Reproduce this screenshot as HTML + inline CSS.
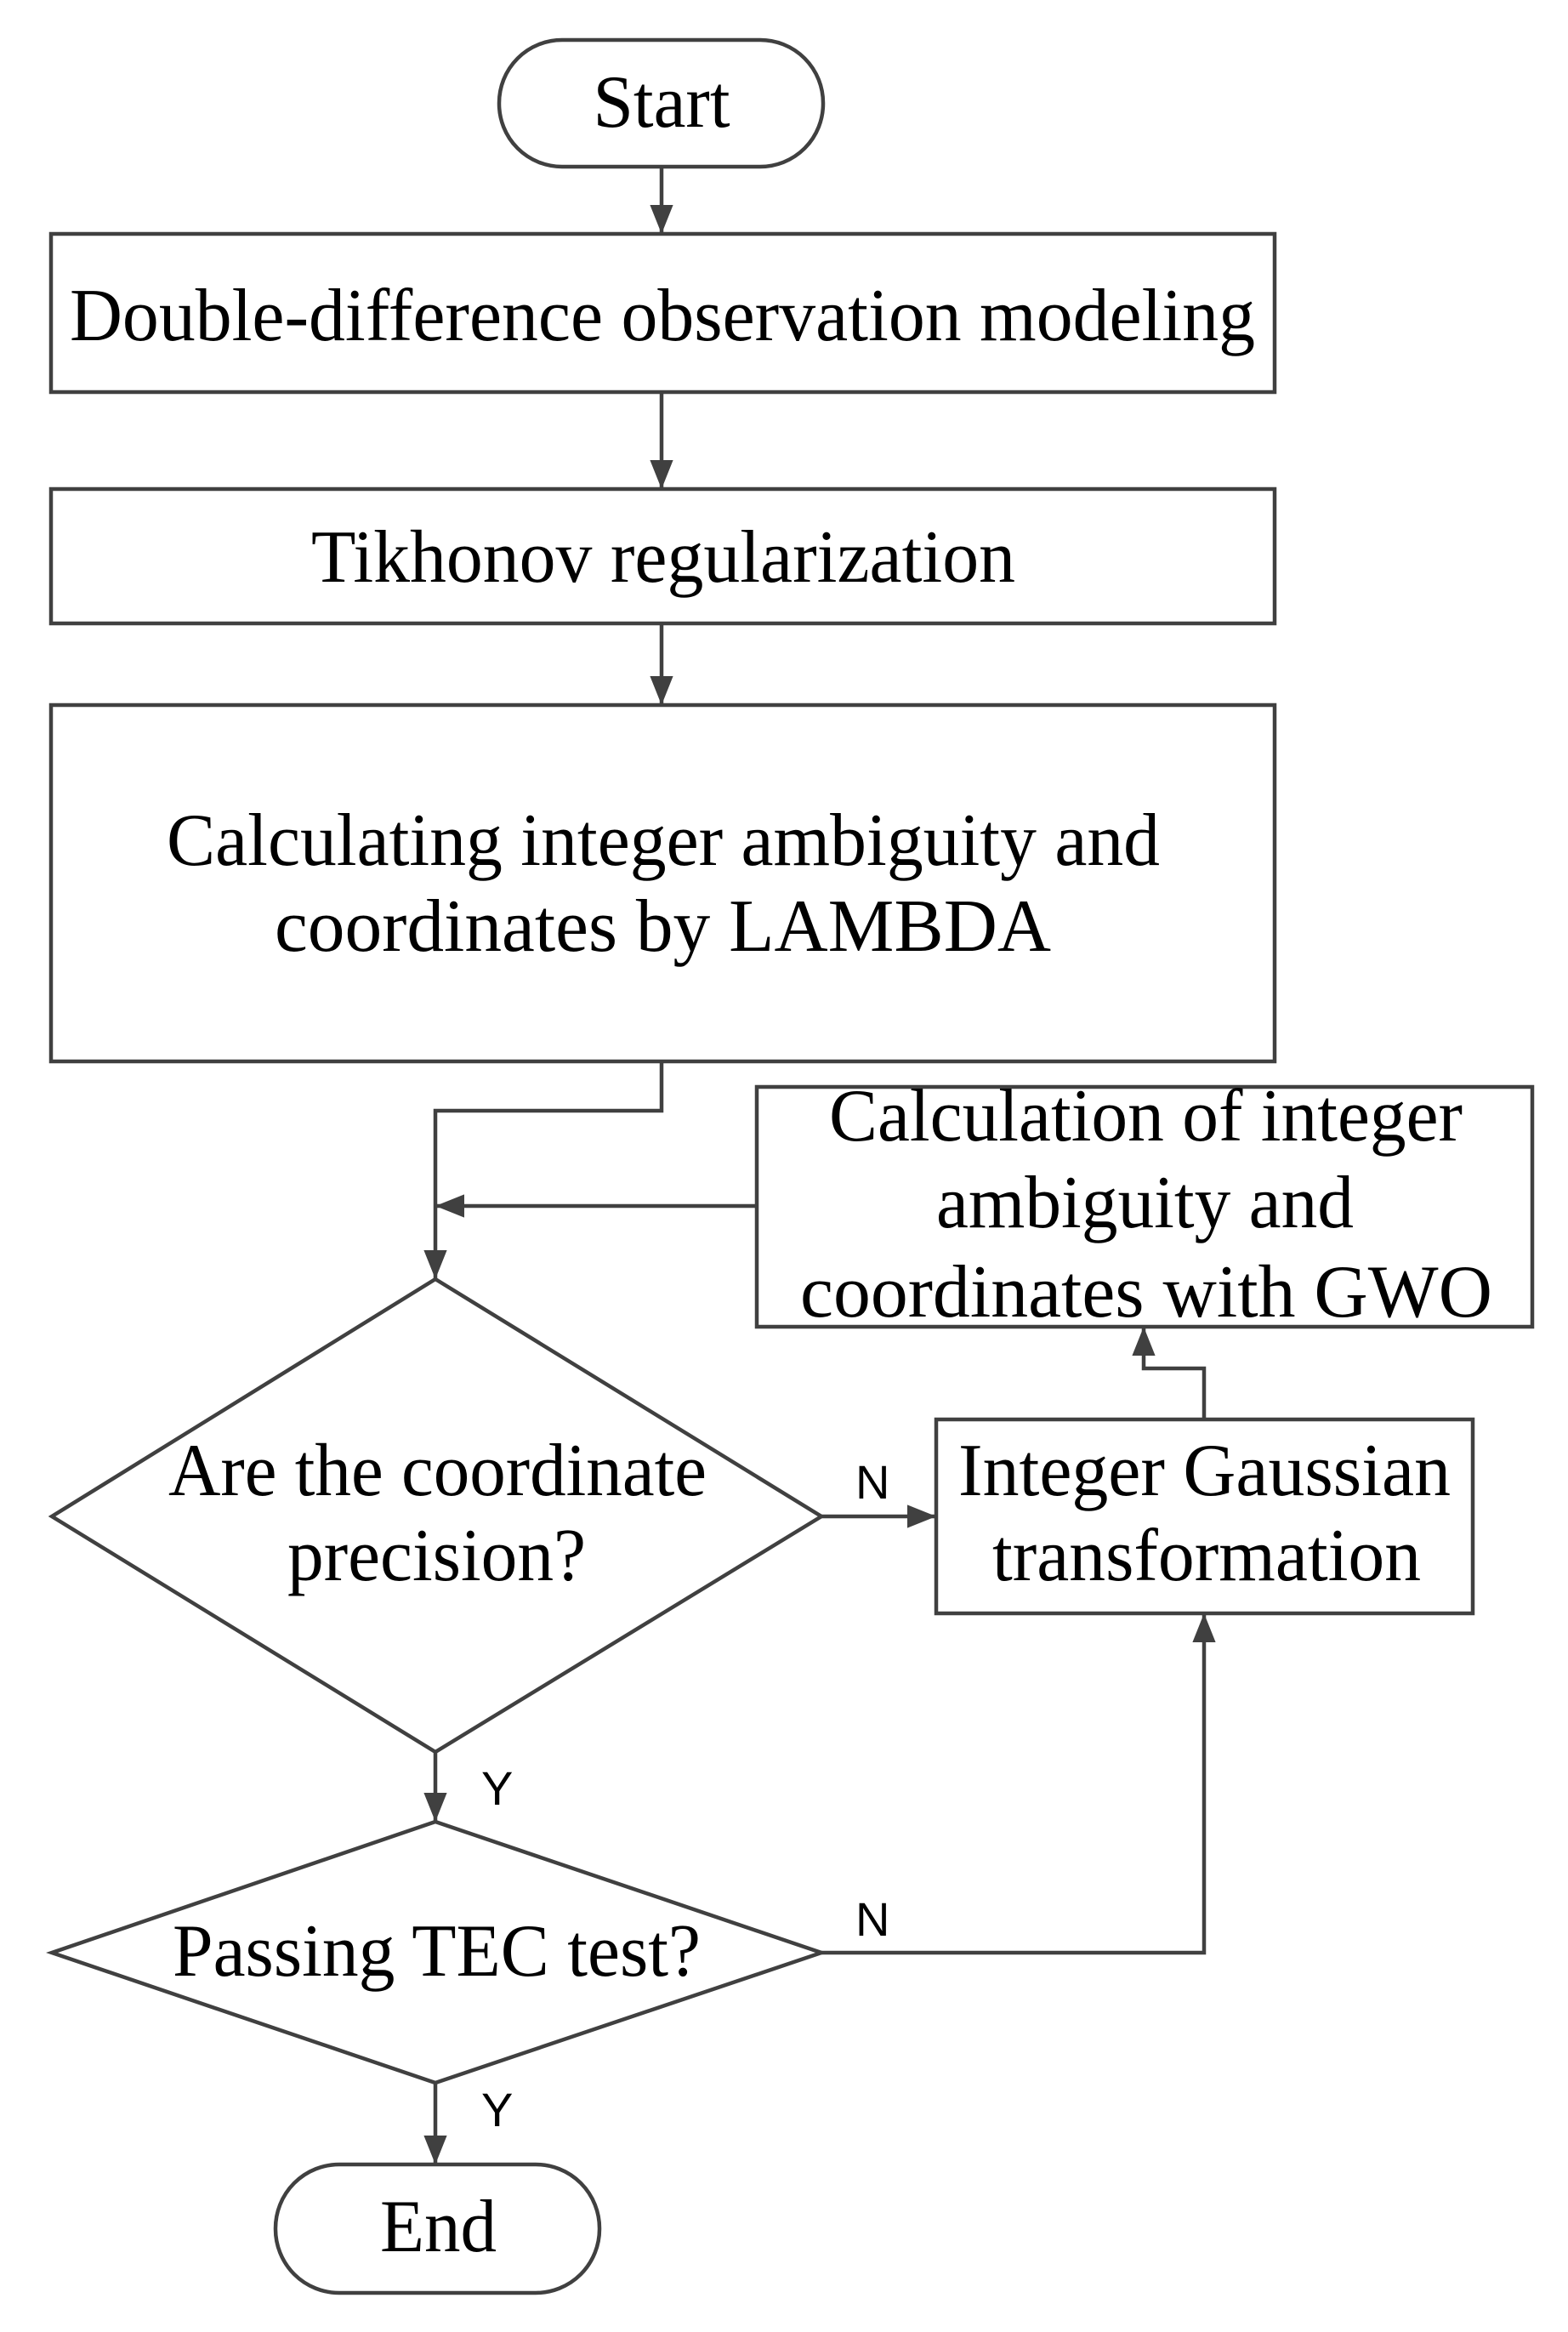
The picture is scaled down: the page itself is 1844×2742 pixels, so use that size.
<!DOCTYPE html>
<html><head><meta charset="utf-8"><style>
html,body{margin:0;padding:0;background:#fff;}
svg{display:block;}
.t{font-family:"Liberation Serif",serif;font-size:88px;fill:#000;}
.l{font-family:"Liberation Sans",sans-serif;font-size:56px;fill:#000;}
.s{fill:none;stroke:#404040;stroke-width:4.5;}
.b{fill:#fff;stroke:#404040;stroke-width:4.5;}
</style></head><body>
<svg width="1844" height="2742" viewBox="0 0 1844 2742" xmlns="http://www.w3.org/2000/svg">
<defs>
<marker id="m" viewBox="0 0 10 10" refX="10" refY="5" markerWidth="34" markerHeight="34" markerUnits="userSpaceOnUse" orient="auto"><path d="M0,1 L10,5 L0,9 z" fill="#404040"/></marker></defs>

<rect class="b" x="587" y="47" width="381" height="149" rx="74"/>
<text class="t" x="778" y="149" text-anchor="middle" textLength="161" lengthAdjust="spacingAndGlyphs">Start</text>
<path class="s" d="M778,196 V275" marker-end="url(#m)"/>

<rect class="b" x="60" y="275" width="1439" height="186"/>
<text class="t" x="82" y="400" textLength="1394" lengthAdjust="spacingAndGlyphs">Double-difference observation modeling</text>
<path class="s" d="M778,461 V575" marker-end="url(#m)"/>

<rect class="b" x="60" y="575" width="1439" height="158"/>
<text class="t" x="366" y="684" textLength="828" lengthAdjust="spacingAndGlyphs">Tikhonov regularization</text>
<path class="s" d="M778,733 V829" marker-end="url(#m)"/>

<rect class="b" x="60" y="829" width="1439" height="419"/>
<text class="t" x="196" y="1017" textLength="1168" lengthAdjust="spacingAndGlyphs">Calculating integer ambiguity and</text>
<text class="t" x="323" y="1118" textLength="913" lengthAdjust="spacingAndGlyphs">coordinates by  LAMBDA</text>

<path class="s" d="M778,1248 V1306 H512 V1504" marker-end="url(#m)"/>

<rect class="b" x="890" y="1278" width="912" height="282"/>
<text class="t" x="975" y="1341" textLength="745" lengthAdjust="spacingAndGlyphs">Calculation of integer</text>
<text class="t" x="1101" y="1443" textLength="491" lengthAdjust="spacingAndGlyphs">ambiguity and</text>
<text class="t" x="941" y="1548" textLength="814" lengthAdjust="spacingAndGlyphs">coordinates with  GWO</text>
<path class="s" d="M890,1418 H512" marker-end="url(#m)"/>

<polygon class="b" points="512,1504 966,1783 512,2060 61,1783"/>
<text class="t" x="198" y="1758" textLength="633" lengthAdjust="spacingAndGlyphs">Are the coordinate</text>
<text class="t" x="338" y="1858" textLength="351" lengthAdjust="spacingAndGlyphs">precision?</text>

<path class="s" d="M966,1783 H1101" marker-end="url(#m)"/>
<text class="l" x="1006" y="1762">N</text>

<rect class="b" x="1101" y="1669" width="631" height="228"/>
<text class="t" x="1127" y="1758" textLength="579" lengthAdjust="spacingAndGlyphs">Integer Gaussian</text>
<text class="t" x="1167" y="1858" textLength="504" lengthAdjust="spacingAndGlyphs">transformation</text>
<path class="s" d="M1416,1669 V1609 H1345 V1560" marker-end="url(#m)"/>

<path class="s" d="M512,2060 V2142" marker-end="url(#m)"/>
<text class="l" x="566" y="2122">Y</text>

<polygon class="b" points="512,2142 966,2296 512,2449 61,2296"/>
<text class="t" x="203" y="2323" textLength="621" lengthAdjust="spacingAndGlyphs">Passing TEC test?</text>

<path class="s" d="M966,2296 H1416 V1897" marker-end="url(#m)"/>
<text class="l" x="1006" y="2276">N</text>

<path class="s" d="M512,2449 V2545" marker-end="url(#m)"/>
<text class="l" x="566" y="2500">Y</text>

<rect class="b" x="324" y="2545" width="381" height="151" rx="75"/>
<text class="t" x="447" y="2647" textLength="137" lengthAdjust="spacingAndGlyphs">End</text>
</svg>
</body></html>
